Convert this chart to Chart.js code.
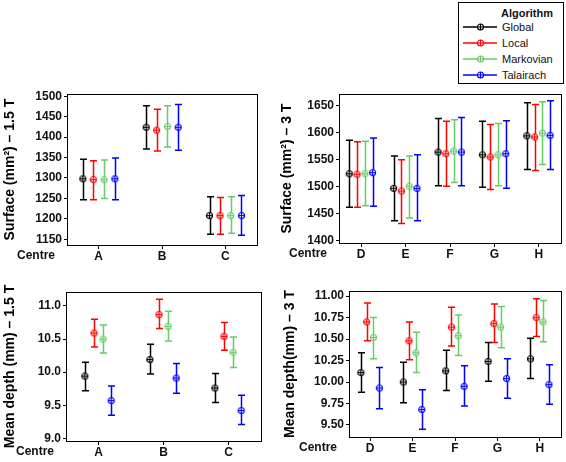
<!DOCTYPE html>
<html>
<head>
<meta charset="utf-8">
<script src="https://cdn.jsdelivr.net/npm/chart.js@4.4.1/dist/chart.umd.min.js"></script>
<style>
  body { margin: 0; background: #fff; }
  #wrap { position: relative; width: 566px; height: 462px; font-family: "Liberation Sans", Arial, sans-serif; }
  canvas.panel { position: absolute; }
  #legend { position: absolute; left: 458px; top: 2px; width: 104px; height: 80px; border: 1px solid #000; background: #fff; }
  #legend .ttl { position: absolute; left: 42px; top: 4px; font-weight: bold; font-size: 11px; color: #111; }
  #legend .row { position: absolute; left: 4px; height: 14px; font-size: 11px; color: #111; }
  #legend .row canvas { position: absolute; left: 0; top: 2px; }
  #legend .row span { position: absolute; left: 39px; top: 0; white-space: nowrap; line-height: 14px; }
</style>
</head>
<body>
<div id="wrap">
  <canvas class="panel" id="surf15" width="275" height="180" style="left:0;top:85px"></canvas>
  <canvas class="panel" id="surf3" width="289" height="180" style="left:277px;top:85px"></canvas>
  <canvas class="panel" id="depth15" width="275" height="182" style="left:0;top:280px"></canvas>
  <canvas class="panel" id="depth3" width="286" height="182" style="left:280px;top:280px"></canvas>
  <div id="legend"><div class="ttl">Algorithm</div></div>
</div>
<script>
// algorithms (series) and colours
const algorithms = ['Global', 'Local', 'Markovian', 'Talairach'];
const algoColors = ['#000000', '#ff0000', '#66cc66', '#0000ff'];

// centres
const centres15 = ['A', 'B', 'C'];
const centres3 = ['D', 'E', 'F', 'G', 'H'];

// [mean, lower, upper] per centre
const surf15Global    = [[1298, 1247, 1346], [1424, 1371, 1477], [1208, 1162, 1254]];
const surf15Local     = [[1296, 1247, 1342], [1417, 1366, 1468], [1208, 1162, 1252]];
const surf15Markovian = [[1296, 1250, 1344], [1426, 1376, 1477], [1208, 1165, 1254]];
const surf15Talairach = [[1298, 1247, 1349], [1424, 1368, 1480], [1208, 1160, 1257]];

const surf3Global    = [[1524, 1462, 1586], [1497, 1437, 1557], [1564, 1502, 1626], [1559, 1499, 1621], [1594, 1532, 1655]];
const surf3Local     = [[1523, 1462, 1583], [1492, 1432, 1550], [1561, 1501, 1621], [1555, 1495, 1615], [1592, 1530, 1652]];
const surf3Markovian = [[1524, 1465, 1584], [1501, 1442, 1557], [1566, 1508, 1624], [1559, 1502, 1617], [1599, 1541, 1657]];
const surf3Talairach = [[1526, 1464, 1590], [1497, 1437, 1559], [1564, 1502, 1628], [1561, 1497, 1622], [1595, 1532, 1659]];

const depth15Global    = [[9.94, 9.72, 10.15], [10.19, 9.97, 10.42], [9.76, 9.54, 9.98]];
const depth15Local     = [[10.59, 10.38, 10.80], [10.87, 10.66, 11.10], [10.54, 10.33, 10.75]];
const depth15Markovian = [[10.50, 10.29, 10.71], [10.69, 10.47, 10.92], [10.30, 10.07, 10.53]];
const depth15Talairach = [[9.57, 9.35, 9.79], [9.91, 9.68, 10.13], [9.42, 9.21, 9.65]];

const depth3Global    = [[10.11, 9.88, 10.34], [10.00, 9.76, 10.23], [10.13, 9.90, 10.37], [10.24, 10.01, 10.46], [10.27, 10.04, 10.51]];
const depth3Local     = [[10.70, 10.48, 10.92], [10.48, 10.26, 10.70], [10.64, 10.42, 10.87], [10.68, 10.46, 10.91], [10.75, 10.53, 10.97]];
const depth3Markovian = [[10.52, 10.27, 10.75], [10.34, 10.11, 10.58], [10.54, 10.31, 10.78], [10.64, 10.40, 10.88], [10.70, 10.47, 10.95]];
const depth3Talairach = [[9.93, 9.69, 10.17], [9.68, 9.45, 9.91], [9.95, 9.72, 10.19], [10.04, 9.81, 10.27], [9.97, 9.74, 10.20]];

// y tick labels
const surf15Ticks = [1150, 1200, 1250, 1300, 1350, 1400, 1450, 1500];
const surf3Ticks = [1400, 1450, 1500, 1550, 1600, 1650];
const depth15Ticks = [9.0, 9.5, 10.0, 10.5, 11.0];
const depth3Ticks = [9.50, 9.75, 10.00, 10.25, 10.50, 10.75, 11.00];

const FONT = '"Liberation Sans", Arial, sans-serif';
const TXT = '#111';

// ⊕ marker
function drawMarker(ctx, cx, cy, color) {
  ctx.save();
  ctx.strokeStyle = color;
  ctx.fillStyle = '#fff';
  ctx.lineWidth = 1.2;
  ctx.beginPath();
  ctx.arc(cx, cy, 3, 0, Math.PI * 2);
  ctx.fill();
  ctx.stroke();
  ctx.beginPath();
  ctx.moveTo(cx - 3, cy); ctx.lineTo(cx + 3, cy);
  ctx.moveTo(cx, cy - 3); ctx.lineTo(cx, cy + 3);
  ctx.stroke();
  ctx.restore();
}

const markerImgs = algoColors.map(c => {
  const cv = document.createElement('canvas');
  cv.width = 9; cv.height = 9;
  drawMarker(cv.getContext('2d'), 4.5, 4.5, c);
  return cv;
});

const errorBars = {
  id: 'errorBars',
  beforeDatasetsDraw(chart) {
    const { ctx } = chart;
    const y = chart.scales.y;
    chart.data.datasets.forEach((ds, di) => {
      const meta = chart.getDatasetMeta(di);
      ctx.save();
      ctx.strokeStyle = ds.borderColor;
      ctx.lineWidth = 1.5;
      meta.data.forEach((pt, i) => {
        const x = Math.round(pt.x) + 0.5;
        const lo = y.getPixelForValue(ds.lows[i]);
        const hi = y.getPixelForValue(ds.highs[i]);
        ctx.beginPath();
        ctx.moveTo(x, lo); ctx.lineTo(x, hi);
        ctx.moveTo(x - 3.5, lo); ctx.lineTo(x + 3.5, lo);
        ctx.moveTo(x - 3.5, hi); ctx.lineTo(x + 3.5, hi);
        ctx.stroke();
      });
      ctx.restore();
    });
  },
  afterDraw(chart) {
    const { ctx, chartArea: a } = chart;
    ctx.save();
    ctx.strokeStyle = '#000';
    ctx.lineWidth = 1;
    ctx.strokeRect(Math.round(a.left) + 0.5, Math.round(a.top) + 0.5,
      Math.round(a.right - a.left), Math.round(a.bottom - a.top));
    ctx.fillStyle = TXT;
    ctx.font = 'bold 12px ' + FONT;
    ctx.textAlign = 'right';
    ctx.textBaseline = 'middle';
    ctx.fillText('Centre', a.left - 12, a.bottom + 11);
    ctx.restore();
  }
};

function makePanel(id, p) {
  const datasets = p.series.map((s, k) => ({
    label: algorithms[k],
    data: s.map((v, i) => ({ x: i + p.offsets[k], y: v[0] })),
    lows: s.map(v => v[1]),
    highs: s.map(v => v[2]),
    borderColor: algoColors[k],
    backgroundColor: algoColors[k],
    pointStyle: markerImgs[k],
    pointRadius: 4
  }));
  new Chart(document.getElementById(id), {
    type: 'scatter',
    data: { datasets },
    plugins: [errorBars],
    options: {
      responsive: false,
      animation: false,
      layout: { padding: { top: p.padTop, right: p.padRight, left: 0, bottom: 0 } },
      plugins: { legend: { display: false }, tooltip: { enabled: false } },
      scales: {
        x: {
          type: 'linear',
          min: -0.5,
          max: p.cats.length - 0.5,
          afterBuildTicks: s => { s.ticks = p.cats.map((c, i) => ({ value: i })); },
          afterFit: s => { s.height = p.xH; },
          ticks: {
            autoSkip: false, maxRotation: 0, padding: 0,
            color: TXT, font: { family: FONT, size: 12, weight: 'bold' },
            callback: v => p.cats[v]
          },
          grid: { display: true, drawOnChartArea: false, drawTicks: true, tickLength: 4, color: '#000' },
          border: { display: true, color: '#000' }
        },
        y: {
          min: p.min, max: p.max,
          afterBuildTicks: s => { s.ticks = p.ticks.map(v => ({ value: v })); },
          afterFit: s => { s.width = p.yW; },
          ticks: {
            autoSkip: false, padding: 2,
            color: TXT, font: { family: FONT, size: 12, weight: 'bold' },
            callback: v => v.toFixed(p.dec)
          },
          grid: { display: true, drawOnChartArea: false, drawTicks: true, tickLength: 3, color: '#000' },
          border: { display: true, color: '#000' },
          title: {
            display: true, text: p.title, color: '#000',
            font: { family: FONT, size: 14, weight: 'bold' },
            padding: { top: 2, bottom: 0 }
          }
        }
      }
    }
  });
}

makePanel('surf15', {
  cats: centres15,
  series: [surf15Global, surf15Local, surf15Markovian, surf15Talairach],
  offsets: [-0.25, -0.085, 0.085, 0.255],
  ticks: surf15Ticks, dec: 0, min: 1136, max: 1505,
  title: 'Surface (mm²) – 1.5 T',
  yW: 67, xH: 20, padTop: 8, padRight: 18
});

makePanel('surf3', {
  cats: centres3,
  series: [surf3Global, surf3Local, surf3Markovian, surf3Talairach],
  offsets: [-0.27, -0.095, 0.08, 0.255],
  ticks: surf3Ticks, dec: 0, min: 1396, max: 1671,
  title: 'Surface (mm²) – 3 T',
  yW: 62, xH: 22, padTop: 7, padRight: 3
});

makePanel('depth15', {
  cats: centres15,
  series: [depth15Global, depth15Local, depth15Markovian, depth15Talairach],
  offsets: [-0.21, -0.07, 0.07, 0.195],
  ticks: depth15Ticks, dec: 1, min: 8.96, max: 11.21,
  title: 'Mean depth (mm) – 1.5 T',
  yW: 66, xH: 21, padTop: 12, padRight: 14
});

makePanel('depth3', {
  cats: centres3,
  series: [depth3Global, depth3Local, depth3Markovian, depth3Talairach],
  offsets: [-0.22, -0.085, 0.075, 0.215],
  ticks: depth3Ticks, dec: 2, min: 9.36, max: 11.06,
  title: 'Mean depth(mm) – 3 T',
  yW: 69, xH: 25, padTop: 11, padRight: 3
});

// legend
const legend = document.getElementById('legend');
algorithms.forEach((name, k) => {
  const row = document.createElement('div');
  row.className = 'row';
  row.style.top = (17 + k * 16) + 'px';
  const cv = document.createElement('canvas');
  cv.width = 34; cv.height = 10;
  const c = cv.getContext('2d');
  c.strokeStyle = algoColors[k];
  c.lineWidth = 1.5;
  c.beginPath(); c.moveTo(0, 5); c.lineTo(34, 5); c.stroke();
  drawMarker(c, 17.5, 5, algoColors[k]);
  const sp = document.createElement('span');
  sp.textContent = name;
  row.appendChild(cv);
  row.appendChild(sp);
  legend.appendChild(row);
});
</script>
</body>
</html>
